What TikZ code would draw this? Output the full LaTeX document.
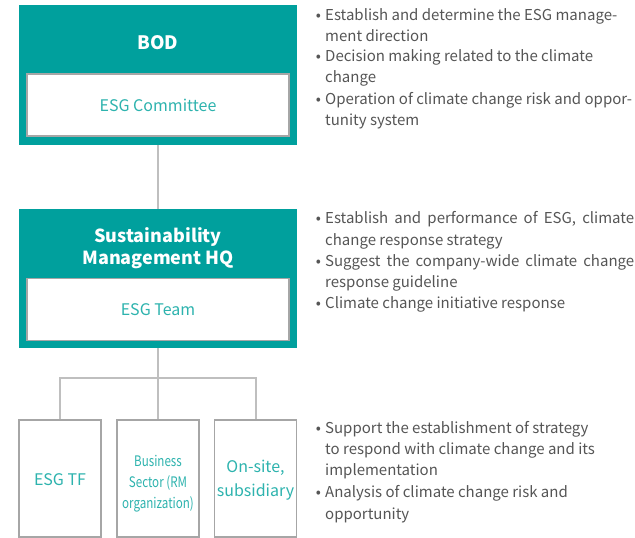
\documentclass[tikz,border=0pt]{standalone}
\usepackage{fontspec}
\setmainfont{Noto Sans CJK KR}
\newfontfamily\condfont[FakeStretch=0.8]{Noto Sans CJK KR}
\definecolor{tealdark}{HTML}{00A09D}
\definecolor{teallight}{HTML}{2DB3AE}
\definecolor{boxgray}{HTML}{A6A6A6}
\definecolor{linegray}{HTML}{BFBFBF}
\definecolor{textgray}{HTML}{555555}
\tikzset{
  outerbox/.style={fill=tealdark, draw=none, minimum width=278pt, minimum height=140pt, inner sep=0pt},
  innerbox/.style={fill=white, draw=boxgray, line width=1.2pt, minimum width=262pt, minimum height=62pt,
    inner sep=0pt, text=teallight, font=\fontsize{16}{19}\selectfont},
  titletext/.style={text=white, font=\bfseries\fontsize{18.5}{22}\selectfont, align=center, inner sep=0pt},
  unitbox/.style={fill=white, draw=boxgray, line width=1.2pt, minimum width=82pt, minimum height=117pt,
    inner sep=0pt},
  unittext/.style={text=teallight, align=center, inner sep=0pt},
  link/.style={draw=linegray, line width=2pt},
  desc/.style={anchor=base west, text=textgray, font=\fontsize{15}{20}\selectfont, inner sep=0pt},
  bulletmark/.style={anchor=base, text=textgray, font=\fontsize{15}{18}\selectfont, inner sep=0pt}
}
\begin{document}
\begin{tikzpicture}[x=1pt,y=-1pt]
\useasboundingbox (0,0) rectangle (635,538);

% board level
\node[outerbox] (bod) at (158,75) {};
\node[titletext] (bodt) at (158,43) {BOD};
\node[innerbox] (comm) at (158,105) {ESG Committee};

% headquarters level
\node[outerbox, minimum height=139pt] (hq) at (158,278.5) {};
\node[titletext, font=\bfseries\fontsize{18}{22}\selectfont] (hqt) at (158,248.5) {Sustainability\\Management HQ};
\node[innerbox] (team) at (158,309.5) {ESG Team};

% working level units
\node[unitbox] (tf) at (60,478.5) {};
\node[unitbox] (biz) at (158,478.5) {};
\node[unitbox] (site) at (255.5,478.5) {};
\node[unittext, font=\fontsize{16}{19}\selectfont] (tft) at (60,480) {ESG TF};
\node[unittext, font=\condfont\fontsize{14.5}{21}\selectfont] (bizt) at (158,483.5) {Business\\Sector (RM\\organization)};
\node[unittext, font=\fontsize{16}{24}\selectfont] (sitet) at (255.5,480.5) {On-site,\\subsidiary};

% connectors
\draw[link] (bod.south) -- (hq.north);
\draw[link] (hq.south) -- (biz.north);
\draw[link] (tf.north) -- ++(0,-41) -| (site.north);

% roles of the board
\node[bulletmark] (d1) at (318.5,20) {•};
\node[desc] (a1) at (325,20) {Establish and determine the ESG manage-};
\node[desc] (a2) at (325,41) {ment direction};
\node[bulletmark] (d2) at (318.5,61) {•};
\node[desc] (a3) at (325,61) {Decision making related to the climate};
\node[desc] (a4) at (325,82) {change};
\node[bulletmark] (d3) at (318.5,104) {•};
\node[desc] (a5) at (325,104) {Operation of climate change risk and oppor-};
\node[desc] (a6) at (325,125) {tunity system};

% roles of the headquarters
\node[bulletmark] (e1d) at (318.5,223) {•};
\node[desc] (b1) at (325,223) {\makebox[309pt][s]{Establish and performance of ESG, climate}};
\node[desc] (b2) at (325,245) {change response strategy};
\node[bulletmark] (e2d) at (318.5,266) {•};
\node[desc] (b3) at (325,266) {\makebox[309pt][s]{Suggest the company-wide climate change}};
\node[desc] (b4) at (325,287) {response guideline};
\node[bulletmark] (e3d) at (318.5,308) {•};
\node[desc] (b5) at (325,308) {Climate change initiative response};

% roles of the units
\node[bulletmark] (f1d) at (318.5,433) {•};
\node[desc] (c1) at (325,433) {Support the establishment of strategy};
\node[desc] (c2) at (325,454) {to respond with climate change and its};
\node[desc] (c3) at (325,475) {implementation};
\node[bulletmark] (f2d) at (318.5,497) {•};
\node[desc] (c4) at (325,497) {Analysis of climate change risk and};
\node[desc] (c5) at (325,519) {opportunity};
\end{tikzpicture}
\end{document}
